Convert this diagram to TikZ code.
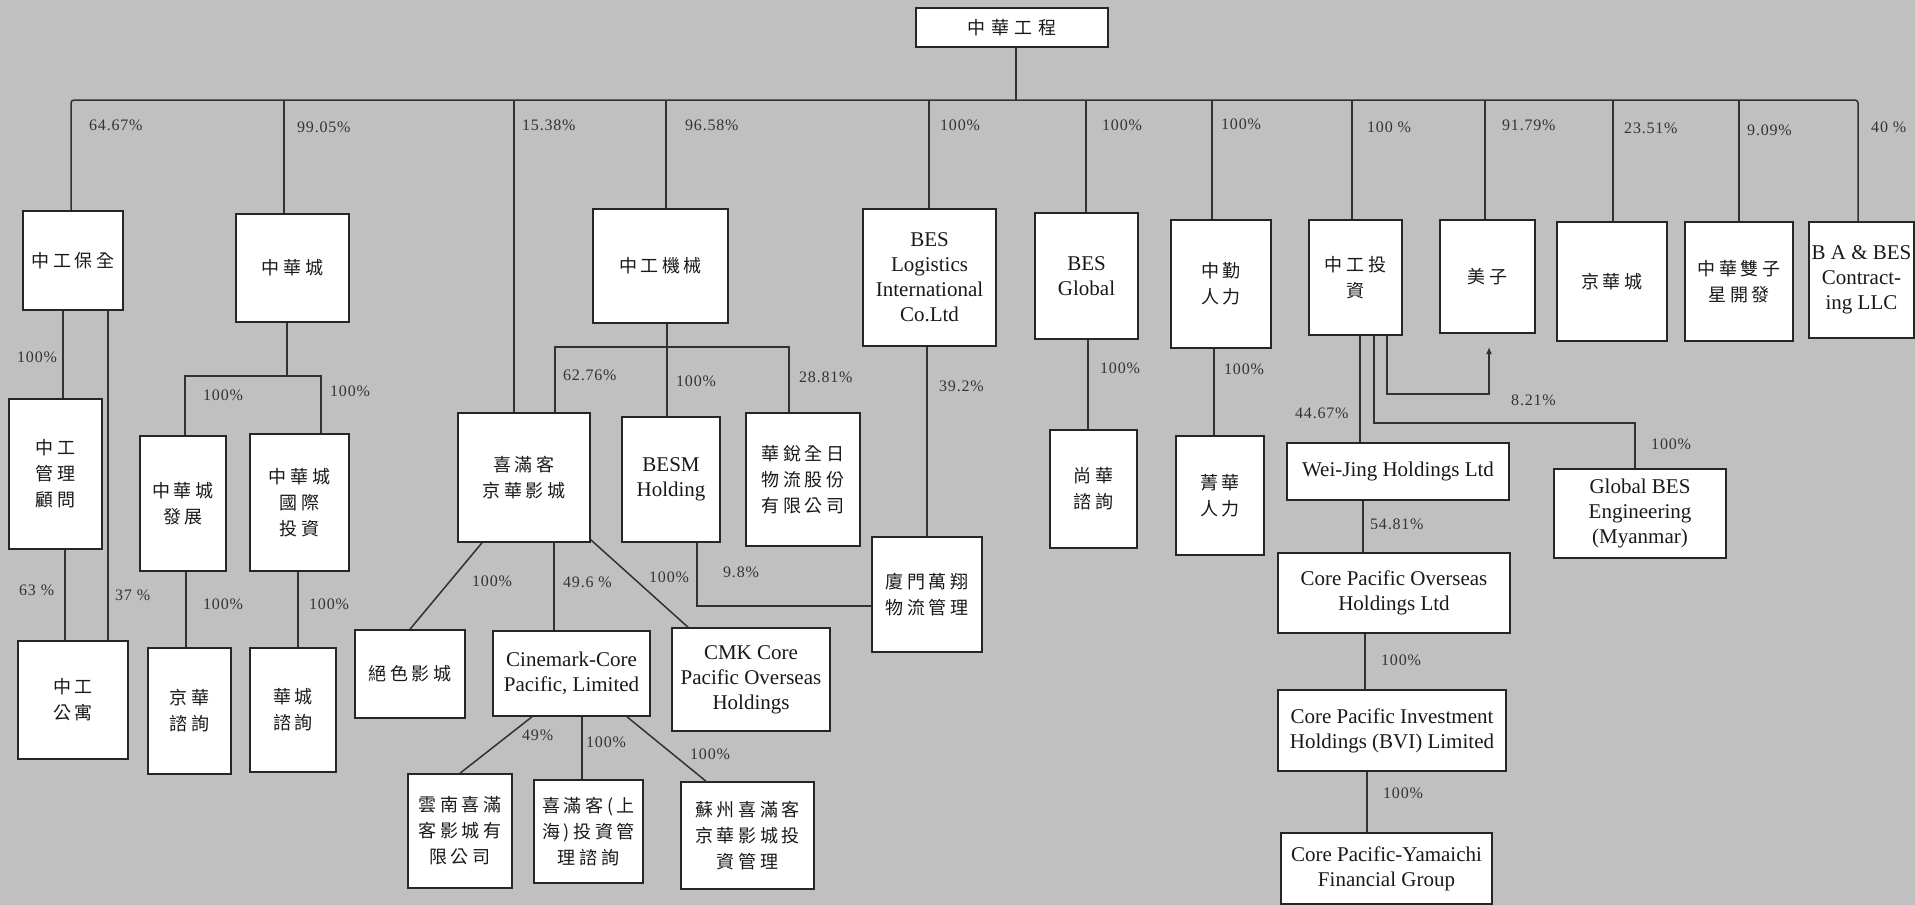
\documentclass[tikz,border=0pt]{standalone}
\usepackage{fontspec}
\setmainfont{Liberation Serif}
\newfontfamily\cjk[LetterSpace=20]{Noto Sans CJK TC}
\newfontfamily\cjkw[LetterSpace=30]{Noto Sans CJK TC}
\newfontfamily\pct[LetterSpace=5]{Liberation Serif}
\usetikzlibrary{arrows.meta}
\definecolor{bg}{RGB}{192,192,192}
\definecolor{ln}{RGB}{50,50,50}
\tikzset{
  box/.style={draw=black!85, line width=1.6pt, fill=white, inner sep=0pt, align=center, text=black!90},
  cn/.style={font=\cjk\fontsize{18}{26}\selectfont},
  en/.style={font=\fontsize{21}{25}\selectfont},
  pl/.style={font=\pct\fontsize{16}{18}\selectfont, text=black!80, anchor=west, inner sep=0pt},
  con/.style={draw=ln, line width=1.5pt},
}
\begin{document}
\begin{tikzpicture}[x=1pt,y=-1pt]
\fill[bg] (0,0) rectangle (1915,905);
\useasboundingbox (0,0) rectangle (1915,905);

% ---------- boxes ----------
\node[box,font=\cjkw\fontsize{18}{26}\selectfont,minimum width=192pt,minimum height=39pt] (top) at (1012,27.5) {中華工程};
\node[box,cn,minimum width=100pt,minimum height=99pt] (bq) at (73,260.5) {中工保全};
\node[box,cn,minimum width=113pt,minimum height=108pt] (zhc) at (292.5,268) {中華城};
\node[box,cn,minimum width=135pt,minimum height=114pt] (jx) at (660.5,266) {中工機械};
\node[box,en,minimum width=133pt,minimum height=137pt] (besl) at (929.5,277.5) {BES\\Logistics\\International\\Co.Ltd};
\node[box,en,minimum width=103pt,minimum height=126pt] (besg) at (1086.5,276) {BES\\Global};
\node[box,cn,minimum width=100pt,minimum height=128pt] (zq) at (1221,284) {中勤\\人力};
\node[box,cn,minimum width=93pt,minimum height=115pt] (zgtz) at (1355.5,277.5) {中工投\\資};
\node[box,cn,minimum width=95pt,minimum height=113pt] (mz) at (1487.5,276.5) {美子};
\node[box,cn,minimum width=110pt,minimum height=119pt] (jhc) at (1612,281.5) {京華城};
\node[box,cn,minimum width=108pt,minimum height=119pt] (szx) at (1739,281.5) {中華雙子\\星開發};
\node[box,en,minimum width=105pt,minimum height=116pt] (ba) at (1861.5,280) {B A \& BES\\Contract-\\ing LLC};

\node[box,cn,minimum width=93pt,minimum height=150pt] (glgw) at (55.5,474) {中工\\管理\\顧問};
\node[box,cn,minimum width=110pt,minimum height=118pt] (gy) at (73,700) {中工\\公寓};
\node[box,cn,minimum width=86pt,minimum height=135pt] (zhcfz) at (183,503.5) {中華城\\發展};
\node[box,cn,minimum width=99pt,minimum height=137pt] (zhcgj) at (299.5,502.5) {中華城\\國際\\投資};
\node[box,cn,minimum width=83pt,minimum height=126pt] (jhzx) at (189.5,711) {京華\\諮詢};
\node[box,cn,minimum width=86pt,minimum height=124pt] (hczx) at (293,710) {華城\\諮詢};

\node[box,cn,minimum width=132pt,minimum height=129pt] (xmk) at (524,477.5) {喜滿客\\京華影城};
\node[box,en,minimum width=98pt,minimum height=125pt] (besm) at (671,479.5) {BESM\\Holding};
\node[box,cn,minimum width=114pt,minimum height=133pt] (hr) at (803,479.5) {華銳全日\\物流股份\\有限公司};
\node[box,cn,minimum width=110pt,minimum height=115pt] (xm) at (927,594.5) {廈門萬翔\\物流管理};
\node[box,cn,minimum width=110pt,minimum height=88pt] (jsyc) at (410,674) {絕色影城};
\node[box,en,minimum width=157pt,minimum height=85pt] (cin) at (571.5,673.5) {Cinemark-Core\\Pacific, Limited};
\node[box,en,minimum width=158pt,minimum height=103pt] (cmk) at (751,679.5) {CMK Core\\Pacific Overseas\\Holdings};
\node[box,cn,minimum width=104pt,minimum height=114pt] (yn) at (460,831) {雲南喜滿\\客影城有\\限公司};
\node[box,cn,minimum width=109pt,minimum height=103pt] (sh) at (588.5,831.5) {喜滿客(上\\海)投資管\\理諮詢};
\node[box,cn,minimum width=133pt,minimum height=107pt] (sz) at (747.5,835.5) {蘇州喜滿客\\京華影城投\\資管理};

\node[box,cn,minimum width=87pt,minimum height=118pt] (shzx) at (1093.5,489) {尚華\\諮詢};
\node[box,cn,minimum width=88pt,minimum height=119pt] (jinghua) at (1220,495.5) {菁華\\人力};
\node[box,en,minimum width=222pt,minimum height=57pt] (wj) at (1398,471.5) {Wei-Jing Holdings Ltd};
\node[box,en,minimum width=172pt,minimum height=89pt] (gbes) at (1640,513.5) {Global BES\\Engineering\\(Myanmar)};
\node[box,en,minimum width=232pt,minimum height=80pt] (cpo) at (1394,593) {Core Pacific Overseas\\Holdings Ltd};
\node[box,en,minimum width=228pt,minimum height=81pt] (cpi) at (1392,730.5) {Core Pacific Investment\\Holdings (BVI) Limited};
\node[box,en,minimum width=211pt,minimum height=71pt] (cpy) at (1386.5,868.5) {Core Pacific-Yamaichi\\Financial Group};

% ---------- top bar ----------
\coordinate (t0) at (1016,0);
\coordinate (barL) at (71,100);
\draw[con] (t0 |- top.south) -- (t0 |- barL);
\coordinate (d1) at (71,100);
\coordinate (d2) at (284,100);
\coordinate (d3) at (514,100);
\coordinate (d4) at (666,100);
\coordinate (d5) at (929,100);
\coordinate (d6) at (1086,100);
\coordinate (d7) at (1212,100);
\coordinate (d8) at (1352,100);
\coordinate (d9) at (1485,100);
\coordinate (d10) at (1613,100);
\coordinate (d11) at (1739,100);
\coordinate (d12) at (1858,100);
\draw[con,rounded corners=3pt] (d1 |- bq.north) -- (d1) -- (d12) -- (d12 |- ba.north);
\draw[con] (d2) -- (d2 |- zhc.north);
\draw[con] (d3) -- (d3 |- xmk.north);
\draw[con] (d4) -- (d4 |- jx.north);
\draw[con] (d5) -- (d5 |- besl.north);
\draw[con] (d6) -- (d6 |- besg.north);
\draw[con] (d7) -- (d7 |- zq.north);
\draw[con] (d8) -- (d8 |- zgtz.north);
\draw[con] (d9) -- (d9 |- mz.north);
\draw[con] (d10) -- (d10 |- jhc.north);
\draw[con] (d11) -- (d11 |- szx.north);

% ---------- left group ----------
\coordinate (a1) at (63,0);
\draw[con] (a1 |- bq.south) -- (a1 |- glgw.north);
\coordinate (a2) at (108,0);
\draw[con] (a2 |- bq.south) -- (a2 |- gy.north);
\coordinate (a3) at (65,0);
\draw[con] (a3 |- glgw.south) -- (a3 |- gy.north);
\coordinate (a4) at (287,376);
\draw[con] (a4 |- zhc.south) -- (a4);
\coordinate (a5) at (185,376);
\coordinate (a6) at (321,376);
\draw[con] (a5 |- zhcfz.north) -- (a5) -- (a6) -- (a6 |- zhcgj.north);
\coordinate (a7) at (186,0);
\draw[con] (a7 |- zhcfz.south) -- (a7 |- jhzx.north);
\coordinate (a8) at (298,0);
\draw[con] (a8 |- zhcgj.south) -- (a8 |- hczx.north);

% ---------- middle group ----------
\coordinate (b1) at (667,347);
\draw[con] (b1 |- jx.south) -- (b1 |- besm.north);
\coordinate (b2) at (555,347);
\coordinate (b3) at (789,347);
\draw[con] (b2 |- xmk.north) -- (b2) -- (b3) -- (b3 |- hr.north);
\coordinate (b4) at (927,0);
\draw[con] (b4 |- besl.south) -- (b4 |- xm.north);
\coordinate (b5) at (697,606);
\draw[con] (b5 |- besm.south) -- (b5) -- (b5 -| xm.west);
\draw[con] ([xshift=-42pt]xmk.south) -- (jsyc.north);
\coordinate (b6) at (554,0);
\draw[con] (b6 |- xmk.south) -- (b6 |- cin.north);
\draw[con] ([yshift=3pt]xmk.south east) -- ([xshift=-63pt]cmk.north);
\draw[con] ([xshift=-39.5pt]cin.south) -- (yn.north);
\coordinate (b7) at (582,0);
\draw[con] (b7 |- cin.south) -- (b7 |- sh.north);
\draw[con] ([xshift=55.5pt]cin.south) -- ([xshift=-41.5pt]sz.north);

% ---------- right group ----------
\coordinate (c1) at (1088,0);
\draw[con] (c1 |- besg.south) -- (c1 |- shzx.north);
\coordinate (c2) at (1214,0);
\draw[con] (c2 |- zq.south) -- (c2 |- jinghua.north);
\coordinate (c3) at (1360,0);
\draw[con] (c3 |- zgtz.south) -- (c3 |- wj.north);
\coordinate (c4) at (1374,423);
\coordinate (c5) at (1635,423);
\draw[con] (c4 |- zgtz.south) -- (c4) -- (c5) -- (c5 |- gbes.north);
\coordinate (c6) at (1387,394);
\coordinate (c7) at (1489,394);
\coordinate (c8) at (1489,347);
\draw[con,-{Latex[length=7pt,width=6pt]}] (c6 |- zgtz.south) -- (c6) -- (c7) -- (c8);
\coordinate (c9) at (1363,0);
\draw[con] (c9 |- wj.south) -- (c9 |- cpo.north);
\coordinate (c10) at (1365,0);
\draw[con] (c10 |- cpo.south) -- (c10 |- cpi.north);
\coordinate (c11) at (1367,0);
\draw[con] (c11 |- cpi.south) -- (c11 |- cpy.north);

% ---------- percentage labels ----------
\node[pl] (p1) at (89,125) {64.67\%};
\node[pl] (p2) at (297,127) {99.05\%};
\node[pl] (p3) at (522,125) {15.38\%};
\node[pl] (p4) at (685,125) {96.58\%};
\node[pl] (p5) at (940,125) {100\%};
\node[pl] (p6) at (1102,125) {100\%};
\node[pl] (p7) at (1221,124) {100\%};
\node[pl] (p8) at (1367,127) {100 \%};
\node[pl] (p9) at (1502,125) {91.79\%};
\node[pl] (p10) at (1624,128) {23.51\%};
\node[pl] (p11) at (1747,130) {9.09\%};
\node[pl] (p12) at (1871,127) {40 \%};
\node[pl] (p13) at (17,357) {100\%};
\node[pl] (p14) at (115,595) {37 \%};
\node[pl] (p15) at (19,590) {63 \%};
\node[pl] (p16) at (203,395) {100\%};
\node[pl] (p17) at (330,391) {100\%};
\node[pl] (p18) at (203,604) {100\%};
\node[pl] (p19) at (309,604) {100\%};
\node[pl] (p20) at (472,581) {100\%};
\node[pl] (p21) at (563,582) {49.6 \%};
\node[pl] (p22) at (649,577) {100\%};
\node[pl] (p23) at (563,375) {62.76\%};
\node[pl] (p24) at (676,381) {100\%};
\node[pl] (p25) at (799,377) {28.81\%};
\node[pl] (p26) at (939,386) {39.2\%};
\node[pl] (p27) at (723,572) {9.8\%};
\node[pl] (p28) at (522,735) {49\%};
\node[pl] (p29) at (586,742) {100\%};
\node[pl] (p30) at (690,754) {100\%};
\node[pl] (p31) at (1100,368) {100\%};
\node[pl] (p32) at (1224,369) {100\%};
\node[pl] (p33) at (1295,413) {44.67\%};
\node[pl] (p34) at (1511,400) {8.21\%};
\node[pl] (p35) at (1651,444) {100\%};
\node[pl] (p36) at (1370,524) {54.81\%};
\node[pl] (p37) at (1381,660) {100\%};
\node[pl] (p38) at (1383,793) {100\%};
\end{tikzpicture}
\end{document}
